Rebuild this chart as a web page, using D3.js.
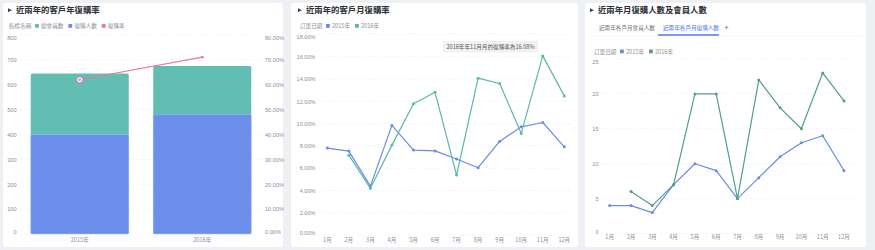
<!DOCTYPE html>
<html><head><meta charset="utf-8">
<script src="https://cdn.jsdelivr.net/npm/d3@7"></script>
<style>
html,body{margin:0;padding:0;background:#eef0f3;}
svg{display:block;font-family:"Noto Sans CJK TC","Noto Sans",sans-serif;}
</style></head>
<body><svg id="c" width="875" height="250"></svg>
<script>
// ---------- data ----------
const years = ["2015年", "2016年"];
const totalMembers = [645, 675];
const repurchasers = [400, 480];
const repurchaseRate = [0.620, 0.711];
const leftTicks = [0, 100, 200, 300, 400, 500, 600, 700, 800];
const rightTicks = [0, 0.1, 0.2, 0.3, 0.4, 0.5, 0.6, 0.7, 0.8];

const months = ["1月","2月","3月","4月","5月","6月","7月","8月","9月","10月","11月","12月"];
const rate2015 = [7.80, 7.53, 4.39, 9.84, 7.62, 7.55, 6.82, 6.04, 8.40, 9.71, 10.10, 7.92];
const rate2016 = [null, 7.17, 4.19, 8.07, 11.78, 12.82, 5.38, 14.08, 13.60, 9.12, 16.08, 12.49];
const rateTicks = [0, 2, 4, 6, 8, 10, 12, 14, 16, 18];

const buyers2015 = [4, 4, 3, 7, 10, 9, 5, 8, 11, 13, 14, 9];
const buyers2016 = [null, 6, 4, 7, 20, 20, 5, 22, 18, 15, 23, 19];
const countTicks = [0, 5, 10, 15, 20, 25];

const titles = ["近兩年的客戶年復購率", "近兩年的客戶月復購率", "近兩年月復購人數及會員人數"];
const legend1 = ["總會員數", "復購人數", "復購率"];
const legendYears = ["2015年", "2016年"];
const tabs = ["近兩年各戶月會員人數", "近兩年各戶月復購人數"];
const tipText = "2016年年11月月的復購率為16.08%";

// ---------- styles ----------
const C = {green:"#62bdb2", blue:"#6b8eea", pink:"#e27d9b", lgreen:"#5cb9a3", dgreen:"#4fa180", lblue:"#6a8ce6",
           text:"#8a8f99", title:"#2b2f36", grid:"#eceef1"};
const FS = 5.6;

const svg = d3.select("#c");

// cards
[[3,3,280,244],[291,3,287,244],[585,3,281,244]].forEach(([x,y,w,h])=>{
  svg.append("rect").attr("x",x).attr("y",y).attr("width",w).attr("height",h).attr("rx",2).attr("fill","#fff");
});

function title(x, t){
  svg.append("path").attr("d",`M${x},8.6 L${x+4.2},10.2 L${x},11.8 Z`).attr("fill","#2d3f70");
  svg.append("rect").attr("x",x).attr("y",8.6).attr("width",1.2).attr("height",3.2).attr("fill","#2d3f70");
  svg.append("text").attr("x",x+8).attr("y",13.2).attr("font-size",8.4).attr("font-weight",600)
     .attr("fill",C.title).text(t);
}
title(8, titles[0]); title(298, titles[1]); title(590, titles[2]);

function legend(x, y, label, items){
  const g = svg.append("g").attr("font-size",FS).attr("fill",C.text);
  g.append("text").attr("x",x).attr("y",y+2).text(label);
  let cx = x + 26;
  items.forEach(([col,t])=>{
    g.append("rect").attr("x",cx).attr("y",y-2).attr("width",3.8).attr("height",3.8).attr("fill",col);
    const tx = g.append("text").attr("x",cx+6).attr("y",y+2).text(t);
    cx += 6 + tx.node().getComputedTextLength() + 5;
  });
}

function styleAxis(g, anchor){
  g.select(".domain").remove();
  g.selectAll(".tick line").remove();
  g.selectAll("text").attr("font-size",FS).attr("fill",C.text).attr("font-family",null).attr("text-anchor",anchor);
  const t = g.selectAll(".tick text").nodes();
  d3.select(t[0]).attr("dy","-0.05em");
  d3.select(t[t.length-1]).attr("dy","0.78em");
}

function grid(y, ticks, x0, x1){
  svg.append("g").selectAll("line").data(ticks).join("line")
    .attr("x1",x0).attr("x2",x1).attr("y1",d=>y(d)).attr("y2",d=>y(d))
    .attr("stroke",C.grid).attr("stroke-width",0.6).attr("stroke-dasharray","3,2");
}

// ---------- panel 1 ----------
legend(9, 26, "指標名稱", [[C.green,legend1[0]],[C.blue,legend1[1]],[C.pink,legend1[2]]]);
const x1 = d3.scaleBand().domain(years).range([18.5, 263.5]).paddingInner(0.2).paddingOuter(0.1);
const yL = d3.scaleLinear().domain([0,800]).range([234, 35]);
const yR = d3.scaleLinear().domain([0,0.8]).range([234, 35]);
grid(yL, leftTicks, 20, 262);
svg.append("g").attr("transform","translate(16.5,0)")
  .call(d3.axisLeft(yL).tickValues(leftTicks).tickSize(0).tickPadding(0)).call(g=>styleAxis(g,"end"));
svg.append("g").attr("transform","translate(265,0)")
  .call(d3.axisRight(yR).tickValues(rightTicks).tickSize(0).tickPadding(0).tickFormat(d3.format(".2%")))
  .call(g=>styleAxis(g,"start"));
svg.append("g").selectAll("rect").data(years).join("rect")
  .attr("x",d=>x1(d)).attr("width",x1.bandwidth())
  .attr("y",(d,i)=>yL(totalMembers[i])).attr("height",(d,i)=>yL(0)-yL(totalMembers[i]))
  .attr("rx",1.5).attr("fill",C.green);
svg.append("g").selectAll("rect").data(years).join("rect")
  .attr("x",d=>x1(d)).attr("width",x1.bandwidth())
  .attr("y",(d,i)=>yL(repurchasers[i])).attr("height",(d,i)=>yL(0)-yL(repurchasers[i]))
  .attr("rx",1.5).attr("fill",C.blue).attr("stroke","#a9c4f0").attr("stroke-width",0.5);
svg.append("g").attr("font-size",FS).attr("fill",C.text).attr("text-anchor","middle")
  .selectAll("text").data(years).join("text")
  .attr("x",d=>x1(d)+x1.bandwidth()/2).attr("y",242).text(d=>d);
const cx1 = d=>x1(d)+x1.bandwidth()/2;
svg.append("path").datum(years)
  .attr("d", d3.line().x(cx1).y((d,i)=>yR(repurchaseRate[i])))
  .attr("fill","none").attr("stroke",C.pink).attr("stroke-width",1.2);
svg.append("circle").attr("cx",cx1(years[0])).attr("cy",yR(repurchaseRate[0])).attr("r",3)
  .attr("fill","#fff").attr("stroke",C.pink).attr("stroke-width",0.9);
svg.append("circle").attr("cx",cx1(years[0])).attr("cy",yR(repurchaseRate[0])).attr("r",1.3).attr("fill",C.pink);
svg.append("circle").attr("cx",cx1(years[1])).attr("cy",yR(repurchaseRate[1])).attr("r",1.4).attr("fill",C.pink);

// ---------- line panel helper ----------
function linePanel(opts){
  const x = d3.scalePoint().domain(months).range(opts.xr);
  const y = d3.scaleLinear().domain(opts.yd).range(opts.yr);
  grid(y, opts.ticks, opts.gx[0], opts.gx[1]);
  svg.append("g").attr("transform",`translate(${opts.ax},0)`)
    .call(d3.axisLeft(y).tickValues(opts.ticks).tickSize(0).tickPadding(0).tickFormat(opts.fmt))
    .call(g=>styleAxis(g,"end"));
  svg.append("g").attr("font-size",FS).attr("fill",C.text).attr("text-anchor","middle")
    .selectAll("text").data(months).join("text").attr("x",d=>x(d)).attr("y",opts.ly).text(d=>d);
  opts.series.forEach(([vals,col])=>{
    const pts = months.map((m,i)=>[m,vals[i]]).filter(p=>p[1]!=null);
    svg.append("path").datum(pts)
      .attr("d", d3.line().x(p=>x(p[0])).y(p=>y(p[1])))
      .attr("fill","none").attr("stroke",col).attr("stroke-width",1.2).attr("stroke-linejoin","round");
    svg.append("g").selectAll("circle").data(pts).join("circle")
      .attr("cx",p=>x(p[0])).attr("cy",p=>y(p[1])).attr("r",1.5).attr("fill",col);
  });
  return {x,y};
}

// ---------- panel 2 ----------
legend(300, 26, "訂單日期", [[C.lblue,legendYears[0]],[C.lgreen,legendYears[1]]]);
linePanel({xr:[327.3,564.3], yd:[0,18], yr:[235,34.5], ticks:rateTicks, gx:[318,572], ax:315.5, ly:242,
  fmt:d=>d.toFixed(2)+"%", series:[[rate2015,C.lblue],[rate2016,C.lgreen]]});
const tip = svg.append("g");
const tt = tip.append("text").attr("x",490.5).attr("y",49.2).attr("font-size",FS).attr("fill","#555")
  .attr("text-anchor","middle").text(tipText);
const tw = tt.node().getComputedTextLength();
tip.insert("rect","text").attr("x",490.5-tw/2-3).attr("y",41.5).attr("width",tw+6).attr("height",10.5)
  .attr("fill","#f2f3f5").attr("stroke","#e3e5e8").attr("stroke-width",0.5);

// ---------- panel 3 ----------
svg.append("text").attr("x",599).attr("y",29.5).attr("font-size",FS).attr("fill","#777").text(tabs[0]);
const t2 = svg.append("text").attr("x",663).attr("y",29.5).attr("font-size",FS).attr("fill","#4a7cf2").text(tabs[1]);
svg.append("line").attr("x1",590).attr("x2",862).attr("y1",35.8).attr("y2",35.8).attr("stroke","#eeeff2").attr("stroke-width",0.6);
svg.append("line").attr("x1",658).attr("x2",719).attr("y1",35).attr("y2",35).attr("stroke","#4a7cf2").attr("stroke-width",1.4);
svg.append("text").attr("x",726.5).attr("y",30).attr("font-size",7.5).attr("fill","#666").attr("text-anchor","middle").text("+");
legend(594, 51.5, "訂單日期", [[C.lblue,legendYears[0]],[C.dgreen,legendYears[1]]]);
linePanel({xr:[609.7,844], yd:[0,25], yr:[233.5,59], ticks:countTicks, gx:[600,856], ax:598.5, ly:239,
  fmt:d=>d, series:[[buyers2015,C.lblue],[buyers2016,C.dgreen]]});
</script></body></html>
